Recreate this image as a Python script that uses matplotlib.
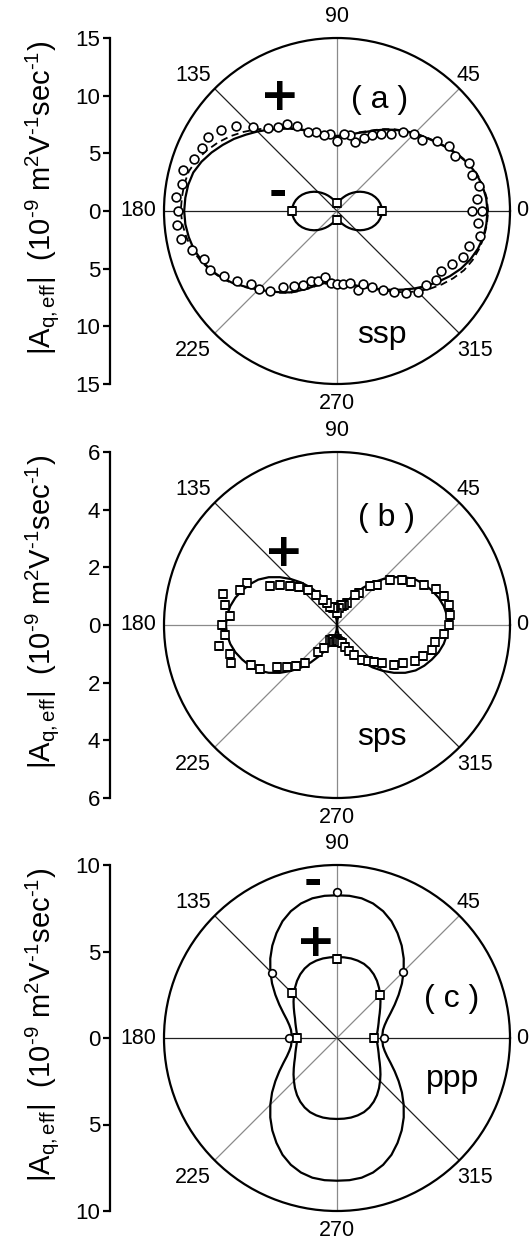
import numpy as np
import matplotlib
matplotlib.use("Agg")
import matplotlib.pyplot as plt

plt.rcParams['font.family'] = ['Liberation Sans', 'DejaVu Sans']
plt.rcParams['mathtext.fontset'] = 'custom'
plt.rcParams['mathtext.rm'] = 'Liberation Sans'
plt.rcParams['mathtext.it'] = 'Liberation Sans:italic'
plt.rcParams['mathtext.default'] = 'regular'

# ---------------- data ----------------
angle_ticks = [0, 45, 90, 135, 180, 225, 270, 315]
angle_labels = ['0', '45', '90', '135', '180', '225', '270', '315']

curve_deg = list(range(0, 361, 5))    # angles of the model curves
data_deg_a = list(range(0, 361, 5))   # ssp measured angles
data_deg_b = list(range(0, 360, 5))   # sps measured angles
marker_deg_a = [0, 90, 180, 270]
marker_deg_c = [0, 45, 90, 135, 180]

# (a) ssp
ssp_fit_solid = [13.05, 12.98, 12.8, 12.5, 12.1, 11.55, 11.0, 10.45, 9.95, 9.5,
                 9.05, 8.6, 8.15, 7.7, 7.3, 7.0, 6.75, 6.55, 6.48,
                 6.6, 6.8, 7.05, 7.4, 7.8, 8.25, 8.7, 9.2, 9.75, 10.3,
                 10.9, 11.45, 12.0, 12.5, 12.9, 13.1, 13.2, 13.25,
                 13.2, 13.05, 12.85, 12.5, 12.1, 11.55, 10.95, 10.25, 9.65, 9.1,
                 8.6, 8.15, 7.6, 7.1, 6.65, 6.35, 6.25, 6.25,
                 6.3, 6.45, 6.7, 7.0, 7.4, 7.85, 8.35, 8.9, 9.5, 10.1,
                 10.7, 11.3, 11.85, 12.3, 12.65, 12.9, 13.0, 13.05]
ssp_fit_dashed = [13.1, 13.03, 12.85, 12.55, 12.15, 11.6, 11.05, 10.5, 10.0, 9.55,
                  9.1, 8.65, 8.2, 7.75, 7.35, 7.05, 6.8, 6.6, 6.53,
                  6.65, 6.85, 7.1, 7.45, 7.85, 8.3, 8.75, 9.35, 10.0, 10.65,
                  11.3, 11.9, 12.45, 12.95, 13.3, 13.45, 13.5, 13.55,
                  13.45, 13.25, 13.0, 12.6, 12.15, 11.6, 11.0, 10.3, 9.7, 9.15,
                  8.65, 8.2, 7.65, 7.15, 6.7, 6.4, 6.3, 6.3,
                  6.35, 6.5, 6.75, 7.05, 7.45, 7.95, 8.55, 9.2, 9.85, 10.5,
                  11.1, 11.65, 12.15, 12.5, 12.75, 12.95, 13.05, 13.1]
ssp_minus_curve = [3.9, 3.88, 3.8, 3.69, 3.53, 3.34, 3.11, 2.86, 2.6, 2.33,
                   2.05, 1.79, 1.54, 1.31, 1.12, 0.96, 0.85, 0.77, 0.75,
                   0.77, 0.85, 0.96, 1.12, 1.31, 1.54, 1.79, 2.05, 2.33, 2.6,
                   2.86, 3.11, 3.34, 3.53, 3.69, 3.8, 3.88, 3.9,
                   3.88, 3.8, 3.69, 3.53, 3.34, 3.11, 2.86, 2.6, 2.33, 2.05,
                   1.79, 1.54, 1.31, 1.12, 0.96, 0.85, 0.77, 0.75,
                   0.77, 0.85, 0.96, 1.12, 1.31, 1.54, 1.79, 2.05, 2.33, 2.6,
                   2.86, 3.11, 3.34, 3.53, 3.69, 3.8, 3.88, 3.9]
ssp_data = [11.7, 12.22, 12.51, 12.16, 12.18, 11.33, 11.19, 10.59, 9.64, 9.39,
            8.95, 8.2, 7.69, 7.28, 6.74, 6.19, 6.72, 6.74, 6.1, 6.66,
            6.65, 7.1, 7.3, 8.15, 8.69, 8.89, 9.36, 10.26, 11.43, 12.26,
            12.87, 12.92, 13.21, 13.8, 13.66, 14.03, 13.75, 13.89, 13.75, 12.98,
            12.25, 12.16, 11.35, 10.62, 9.79, 9.62, 9.03, 8.09, 7.49, 7.05,
            6.49, 6.29, 5.82, 6.27, 6.3, 6.38, 6.33, 7.1, 6.71, 7.26,
            7.92, 8.58, 9.27, 9.89, 10.03, 10.45, 10.43, 10.96, 11.58, 11.87,
            12.61, 12.23, 12.56]
ssp_minus_points = [3.9, 0.73, 3.87, 0.78]

# (b) sps
sps_fit = [3.85, 3.83, 3.76, 3.65, 3.5, 3.34, 3.15, 2.89, 2.58, 2.25,
           1.92, 1.58, 1.25, 0.98, 0.75, 0.55, 0.36, 0.18, 0.0,
           0.18, 0.36, 0.55, 0.75, 0.98, 1.25, 1.58, 1.92, 2.25, 2.58,
           2.89, 3.15, 3.34, 3.5, 3.65, 3.76, 3.83, 3.85,
           3.83, 3.76, 3.65, 3.5, 3.34, 3.15, 2.89, 2.58, 2.25, 1.92,
           1.58, 1.25, 0.98, 0.75, 0.55, 0.36, 0.18, 0.0,
           0.18, 0.36, 0.55, 0.75, 0.98, 1.25, 1.58, 1.92, 2.25, 2.58,
           2.89, 3.15, 3.34, 3.5, 3.65, 3.76, 3.83, 3.85]
sps_data = [3.9, 3.95, 3.93, 3.84, 3.65, 3.32, 2.97, 2.75, 2.42, 1.98,
            1.77, 1.36, 1.22, 0.83, 0.75, 0.7, 0.7, 0.6, 0.4, 0.6,
            0.65, 0.6, 0.68, 0.85, 0.99, 1.27, 1.59, 1.85, 2.12, 2.43,
            2.7, 3.44, 3.57, 4.09, 3.96, 3.73, 3.99, 3.89, 4.16, 3.85,
            3.9, 3.28, 3.07, 2.55, 2.26, 1.99, 1.72, 1.13, 0.91, 0.58,
            0.55, 0.5, 0.6, 0.55, 0.5, 0.55, 0.6, 0.65, 0.8, 1.0,
            1.2, 1.49, 1.65, 1.82, 2.05, 2.4, 2.66, 2.97, 3.17, 3.41,
            3.46, 3.71]

# (c) ppp
ppp_minus_curve = [2.62, 2.64, 2.7, 2.85, 3.08, 3.42, 3.85, 4.35, 4.9, 5.45,
                   6.0, 6.52, 7.0, 7.45, 7.8, 8.05, 8.2, 8.25, 8.25,
                   8.25, 8.2, 8.05, 7.8, 7.45, 7.0, 6.52, 6.0, 5.45, 4.9,
                   4.35, 3.85, 3.42, 3.08, 2.85, 2.7, 2.64, 2.62,
                   2.64, 2.7, 2.85, 3.08, 3.42, 3.85, 4.35, 4.9, 5.45, 6.0,
                   6.52, 7.0, 7.45, 7.8, 8.05, 8.2, 8.25, 8.25,
                   8.25, 8.2, 8.05, 7.8, 7.45, 7.0, 6.52, 6.0, 5.45, 4.9,
                   4.35, 3.85, 3.42, 3.08, 2.85, 2.7, 2.64, 2.62]
ppp_plus_curve = [2.3, 2.32, 2.38, 2.46, 2.56, 2.68, 2.85, 3.05, 3.28, 3.52,
                  3.78, 4.03, 4.25, 4.43, 4.56, 4.63, 4.67, 4.68, 4.68,
                  4.68, 4.67, 4.63, 4.56, 4.43, 4.25, 4.03, 3.78, 3.52, 3.28,
                  3.05, 2.85, 2.68, 2.56, 2.46, 2.38, 2.32, 2.3,
                  2.32, 2.38, 2.46, 2.56, 2.68, 2.85, 3.05, 3.28, 3.52, 3.78,
                  4.03, 4.25, 4.43, 4.56, 4.63, 4.67, 4.68, 4.68,
                  4.68, 4.67, 4.63, 4.56, 4.43, 4.25, 4.03, 3.78, 3.52, 3.28,
                  3.05, 2.85, 2.68, 2.56, 2.46, 2.38, 2.32, 2.3]
ppp_minus_points = [2.72, 5.4, 8.45, 5.3, 2.8]
ppp_plus_points = [2.15, 3.5, 4.55, 3.7, 2.3]

radial_max = [15, 6, 10]
radial_ticks = [[-15, -10, -5, 0, 5, 10, 15], [-6, -4, -2, 0, 2, 4, 6], [-10, -5, 0, 5, 10]]
panel_tags = ['( a )', '( b )', '( c )']
panel_names = ['ssp', 'sps', 'ppp']

# ---------------- layout ----------------
W, H = 532, 1242
fig = plt.figure(figsize=(W / 100, H / 100), dpi=100)
D = 346.0
centers_y = [211, 625, 1038]
cx = 337

hy = '\u2010'
ylabel = (r'$|A_{q,eff}|$  (10$^{' + hy + r'9}$ m$^{2}$V$^{' + hy + r'1}$sec$^{' + hy + r'1}$)')

label_pos = {  # axes-fraction positions of the angle labels
    '90': (0.5, 1.061), '270': (0.5, -0.055), '180': (-0.075, 0.5), '0': (1.035, 0.5),
    '135': (0.084, 0.893), '45': (0.879, 0.893), '225': (0.084, 0.098), '315': (0.899, 0.098),
}

dark_spokes = [{0, 180, 135, 315}, {135, 315}, {0, 180, 135, 315}]

polar_axes = []
for i, cy in enumerate(centers_y):
    left = (cx - D / 2) / W
    bottom = 1 - (cy + D / 2) / H
    ax = fig.add_axes([left, bottom, D / W, D / H], projection='polar')
    ax.set_ylim(0, radial_max[i])
    ax.set_yticks([])
    ax.set_xticks(np.deg2rad(angle_ticks))
    ax.set_xticklabels([])
    ax.tick_params(axis='x', length=0)
    ax.grid(True)
    for ang, gl in zip(angle_ticks, ax.xaxis.get_gridlines()):
        if ang in dark_spokes[i]:
            gl.set_color('#202020'); gl.set_linewidth(0.9)
        else:
            gl.set_color('#8a8a8a'); gl.set_linewidth(0.9)
        gl.set_linestyle('-')
    ax.spines['polar'].set_linewidth(1.6)
    for lab in angle_labels:
        x, y = label_pos[lab]
        ax.text(x, y, lab, transform=ax.transAxes, ha='center', va='center', fontsize=15.5)
    polar_axes.append(ax)

    # left radial scale
    lax = fig.add_axes([110 / W, bottom, 20 / W, D / H])
    lax.set_ylim(-radial_max[i], radial_max[i])
    lax.set_yticks(radial_ticks[i])
    lax.set_yticklabels([str(abs(v)) for v in radial_ticks[i]])
    lax.set_xticks([])
    for s in ['top', 'right', 'bottom']:
        lax.spines[s].set_visible(False)
    lax.spines['left'].set_linewidth(1.6)
    lax.tick_params(axis='y', direction='out', length=5, width=1.6, labelsize=16, pad=2)
    lax.patch.set_alpha(0)
    lax.set_ylabel(ylabel, fontsize=21, va='center')
    lax.yaxis.set_label_coords((42 - 110) / 20.0, 1 - ((cy - 13) - (cy - D / 2)) / D)

axa, axb, axc = polar_axes
lw = 1.6
mk = dict(markerfacecolor='white', markeredgecolor='black', markeredgewidth=1.2, linestyle='none', zorder=5)

# (a)
axa.plot(np.deg2rad(curve_deg), ssp_fit_solid, color='black', lw=lw, zorder=3)
axa.plot(np.deg2rad(curve_deg), ssp_fit_dashed, color='black', lw=1.3, ls=(0, (4, 2.5)), zorder=3)
axa.plot(np.deg2rad(curve_deg), ssp_minus_curve, color='black', lw=lw, zorder=3)
axa.plot(np.deg2rad(data_deg_a), ssp_data, marker='o', markersize=6.3, **mk)
axa.plot(np.deg2rad(marker_deg_a), ssp_minus_points, marker='s', markersize=5.5, **mk)

# (b)
axb.plot(np.deg2rad(curve_deg), sps_fit, color='black', lw=lw, zorder=3)
axb.plot(np.deg2rad(data_deg_b), sps_data, marker='s', markersize=5.8, **mk)

# (c)
axc.plot(np.deg2rad(curve_deg), ppp_minus_curve, color='black', lw=lw, zorder=3)
axc.plot(np.deg2rad(curve_deg), ppp_plus_curve, color='black', lw=lw, zorder=3)
axc.plot(np.deg2rad(marker_deg_c), ppp_minus_points, marker='o', markersize=5.5, **mk)
axc.plot(np.deg2rad(marker_deg_c), ppp_plus_points, marker='s', markersize=5.2, **mk)

# annotations
big = 23
sign = dict(ha='center', va='center', fontweight='bold', family='DejaVu Sans')
axa.text(0.335, 0.827, '+', transform=axa.transAxes, fontsize=34, **sign)
axa.text(0.329, 0.552, '-', transform=axa.transAxes, fontsize=32, **sign)
axa.text(0.624, 0.821, panel_tags[0], transform=axa.transAxes, fontsize=big, ha='center', va='center')
axa.text(0.63, 0.118, panel_names[0], transform=axa.transAxes, fontsize=big, ha='center', va='baseline')

axb.text(0.347, 0.708, '+', transform=axb.transAxes, fontsize=34, **sign)
axb.text(0.644, 0.809, panel_tags[1], transform=axb.transAxes, fontsize=big, ha='center', va='center')
axb.text(0.63, 0.153, panel_names[1], transform=axb.transAxes, fontsize=big, ha='center', va='baseline')

axc.text(0.43, 0.948, '-', transform=axc.transAxes, fontsize=32, **sign)
axc.text(0.44, 0.772, '+', transform=axc.transAxes, fontsize=34, **sign)
axc.text(0.832, 0.613, panel_tags[2], transform=axc.transAxes, fontsize=big, ha='center', va='center')
axc.text(0.835, 0.358, panel_names[2], transform=axc.transAxes, fontsize=big, ha='center', va='baseline')

fig.savefig('out.png', dpi=100)
